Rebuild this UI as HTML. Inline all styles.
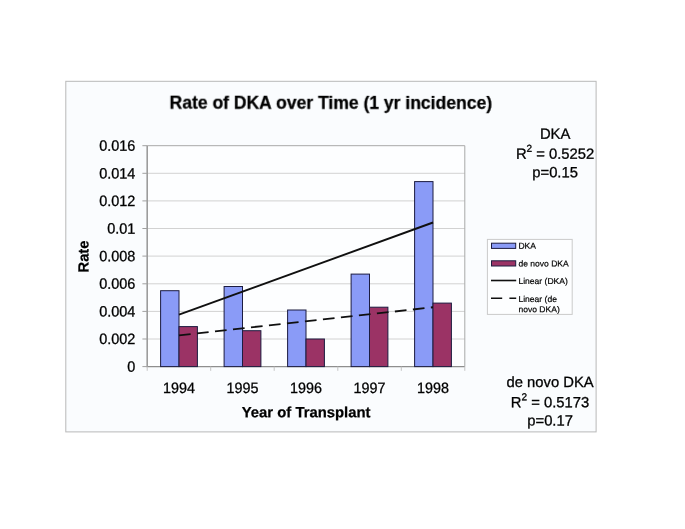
<!DOCTYPE html>
<html><head><meta charset="utf-8">
<style>
html,body{margin:0;padding:0;background:#fff;}
body{width:685px;height:529px;overflow:hidden;}
svg{display:block;}
text{font-family:"Liberation Sans",sans-serif;fill:#000;}
</style></head><body>
<svg width="685" height="529" viewBox="0 0 685 529">
<defs><filter id="id" x="0" y="0" width="685" height="529" filterUnits="userSpaceOnUse" color-interpolation-filters="sRGB"><feOffset dx="0" dy="0"/></filter></defs>
<rect x="0" y="0" width="685" height="529" fill="#ffffff"/>
<rect x="65.8" y="81.3" width="530.3" height="350.6" fill="#fafcfe" stroke="#b8b8b8" stroke-width="1"/>
<rect x="147.2" y="145.7" width="317.6" height="220.9" fill="#fdfeff" stroke="none"/>
<g stroke="#d2d2d2" stroke-width="1">
<line x1="147.2" x2="464.8" y1="173.3" y2="173.3"/>
<line x1="147.2" x2="464.8" y1="200.9" y2="200.9"/>
<line x1="147.2" x2="464.8" y1="228.5" y2="228.5"/>
<line x1="147.2" x2="464.8" y1="256.1" y2="256.1"/>
<line x1="147.2" x2="464.8" y1="283.8" y2="283.8"/>
<line x1="147.2" x2="464.8" y1="311.4" y2="311.4"/>
<line x1="147.2" x2="464.8" y1="339.0" y2="339.0"/>
</g>
<path d="M147.2 145.7 H464.8 V366.6" fill="none" stroke="#a8a8a8" stroke-width="1"/>
<path d="M147.2 145.7 V366.6" fill="none" stroke="#9c9c9c" stroke-width="1.6"/>
<path d="M146.4 366.6 H464.8" fill="none" stroke="#8e8e8e" stroke-width="1.2"/>
<g stroke="#a0a0a0" stroke-width="1">
<line x1="142.4" x2="147.2" y1="145.7" y2="145.7"/>
<line x1="142.4" x2="147.2" y1="173.3" y2="173.3"/>
<line x1="142.4" x2="147.2" y1="200.9" y2="200.9"/>
<line x1="142.4" x2="147.2" y1="228.5" y2="228.5"/>
<line x1="142.4" x2="147.2" y1="256.1" y2="256.1"/>
<line x1="142.4" x2="147.2" y1="283.8" y2="283.8"/>
<line x1="142.4" x2="147.2" y1="311.4" y2="311.4"/>
<line x1="142.4" x2="147.2" y1="339.0" y2="339.0"/>
<line x1="142.4" x2="147.2" y1="366.6" y2="366.6"/>
</g><g stroke="#c4c4c4" stroke-width="1">
<line x1="147.2" x2="147.2" y1="366.6" y2="370.8"/>
<line x1="210.7" x2="210.7" y1="366.6" y2="370.8"/>
<line x1="274.2" x2="274.2" y1="366.6" y2="370.8"/>
<line x1="337.8" x2="337.8" y1="366.6" y2="370.8"/>
<line x1="401.3" x2="401.3" y1="366.6" y2="370.8"/>
<line x1="464.8" x2="464.8" y1="366.6" y2="370.8"/>
</g>
<g stroke="#1c1c40" stroke-width="1">
<rect x="160.6" y="290.7" width="18.4" height="75.9" fill="#8a9bf7"/>
<rect x="224.1" y="286.5" width="18.4" height="80.1" fill="#8a9bf7"/>
<rect x="287.6" y="310.0" width="18.4" height="56.6" fill="#8a9bf7"/>
<rect x="351.1" y="274.1" width="18.4" height="92.5" fill="#8a9bf7"/>
<rect x="414.6" y="181.6" width="18.4" height="185.0" fill="#8a9bf7"/>
<rect x="179.0" y="326.6" width="18.4" height="40.0" fill="#9b3365"/>
<rect x="242.5" y="330.7" width="18.4" height="35.9" fill="#9b3365"/>
<rect x="306.0" y="339.0" width="18.4" height="27.6" fill="#9b3365"/>
<rect x="369.5" y="307.2" width="18.4" height="59.4" fill="#9b3365"/>
<rect x="433.0" y="303.1" width="18.4" height="63.5" fill="#9b3365"/>
</g>
<line x1="179.0" y1="314.7" x2="433.0" y2="222.5" stroke="#101010" stroke-width="1.9"/>
<line x1="179.0" y1="335.4" x2="433.0" y2="307.2" stroke="#101010" stroke-width="1.9" stroke-dasharray="11.7 6.4"/>
<g filter="url(#id)">
<text transform="translate(135.40,150.80) rotate(0.05) scale(0.965,1)" font-size="15" text-anchor="end" stroke="#000" stroke-width="0.3">0.016</text>
<text transform="translate(135.40,178.41) rotate(0.05) scale(0.965,1)" font-size="15" text-anchor="end" stroke="#000" stroke-width="0.3">0.014</text>
<text transform="translate(135.40,206.03) rotate(0.05) scale(0.965,1)" font-size="15" text-anchor="end" stroke="#000" stroke-width="0.3">0.012</text>
<text transform="translate(135.40,233.64) rotate(0.05) scale(0.965,1)" font-size="15" text-anchor="end" stroke="#000" stroke-width="0.3">0.01</text>
<text transform="translate(135.40,261.25) rotate(0.05) scale(0.965,1)" font-size="15" text-anchor="end" stroke="#000" stroke-width="0.3">0.008</text>
<text transform="translate(135.40,288.86) rotate(0.05) scale(0.965,1)" font-size="15" text-anchor="end" stroke="#000" stroke-width="0.3">0.006</text>
<text transform="translate(135.40,316.48) rotate(0.05) scale(0.965,1)" font-size="15" text-anchor="end" stroke="#000" stroke-width="0.3">0.004</text>
<text transform="translate(135.40,344.09) rotate(0.05) scale(0.965,1)" font-size="15" text-anchor="end" stroke="#000" stroke-width="0.3">0.002</text>
<text transform="translate(135.40,371.70) rotate(0.05) scale(0.965,1)" font-size="15" text-anchor="end" stroke="#000" stroke-width="0.3">0</text>
<text transform="translate(178.96,392.90) rotate(0.05) scale(0.955,1)" font-size="15" text-anchor="middle" stroke="#000" stroke-width="0.3">1994</text>
<text transform="translate(242.48,392.90) rotate(0.05) scale(0.955,1)" font-size="15" text-anchor="middle" stroke="#000" stroke-width="0.3">1995</text>
<text transform="translate(306.00,392.90) rotate(0.05) scale(0.955,1)" font-size="15" text-anchor="middle" stroke="#000" stroke-width="0.3">1996</text>
<text transform="translate(369.52,392.90) rotate(0.05) scale(0.955,1)" font-size="15" text-anchor="middle" stroke="#000" stroke-width="0.3">1997</text>
<text transform="translate(433.04,392.90) rotate(0.05) scale(0.955,1)" font-size="15" text-anchor="middle" stroke="#000" stroke-width="0.3">1998</text>
<text transform="translate(306.10,417.20) rotate(0.05)" font-size="14.85" text-anchor="middle" font-weight="bold" stroke="#000" stroke-width="0.25">Year of Transplant</text>
<text transform="translate(88.50,256.50) rotate(-89.95)" font-size="14.7" text-anchor="middle" font-weight="bold" stroke="#000" stroke-width="0.25">Rate</text>
<text transform="translate(330.80,108.80) rotate(0.05)" font-size="17.55" text-anchor="middle" font-weight="bold" stroke="#000" stroke-width="0.25">Rate of DKA over Time (1 yr incidence)</text>
<text transform="translate(555.10,138.70) rotate(0.05)" font-size="14.8" text-anchor="middle" stroke="#000" stroke-width="0.3">DKA</text>
<text transform="translate(555.10,158.80) rotate(0.05)" font-size="14.8" text-anchor="middle" stroke="#000" stroke-width="0.3">R<tspan font-size="10" dy="-7">2</tspan><tspan dy="7"> = 0.5252</tspan></text>
<text transform="translate(555.10,177.20) rotate(0.05)" font-size="14.8" text-anchor="middle" stroke="#000" stroke-width="0.3">p=0.15</text>
<text transform="translate(550.10,387.00) rotate(0.05)" font-size="14.8" text-anchor="middle" stroke="#000" stroke-width="0.3">de novo DKA</text>
<text transform="translate(550.00,407.30) rotate(0.05)" font-size="14.8" text-anchor="middle" stroke="#000" stroke-width="0.3">R<tspan font-size="10" dy="-7">2</tspan><tspan dy="7"> = 0.5173</tspan></text>
<text transform="translate(550.10,425.60) rotate(0.05)" font-size="14.8" text-anchor="middle" stroke="#000" stroke-width="0.3">p=0.17</text>
</g>
<rect x="487.4" y="239.4" width="84.8" height="75" fill="#fdfeff" stroke="#cacaca" stroke-width="1"/>
<rect x="491.5" y="243.2" width="24.2" height="5.2" fill="#8a9bf7" stroke="#1c1c40" stroke-width="1"/>
<rect x="491.5" y="260.8" width="24.2" height="5.2" fill="#9b3365" stroke="#1c1c40" stroke-width="1"/>
<line x1="491" x2="516.2" y1="280.5" y2="280.5" stroke="#101010" stroke-width="1.6"/>
<line x1="491" x2="516.2" y1="298.3" y2="298.3" stroke="#101010" stroke-width="1.6" stroke-dasharray="11.2 7.2"/>
<g filter="url(#id)">
<text transform="translate(518.40,248.80) rotate(0.05)" font-size="8.55" text-anchor="start" stroke="#000" stroke-width="0.2">DKA</text>
<text transform="translate(518.40,266.50) rotate(0.05)" font-size="8.55" text-anchor="start" stroke="#000" stroke-width="0.2">de novo DKA</text>
<text transform="translate(518.40,284.00) rotate(0.05)" font-size="8.55" text-anchor="start" stroke="#000" stroke-width="0.2">Linear (DKA)</text>
<text transform="translate(518.40,302.00) rotate(0.05)" font-size="8.55" text-anchor="start" stroke="#000" stroke-width="0.2">Linear (de</text>
<text transform="translate(518.40,312.30) rotate(0.05)" font-size="8.55" text-anchor="start" stroke="#000" stroke-width="0.2">novo DKA)</text>
</g>
</svg>
</body></html>
